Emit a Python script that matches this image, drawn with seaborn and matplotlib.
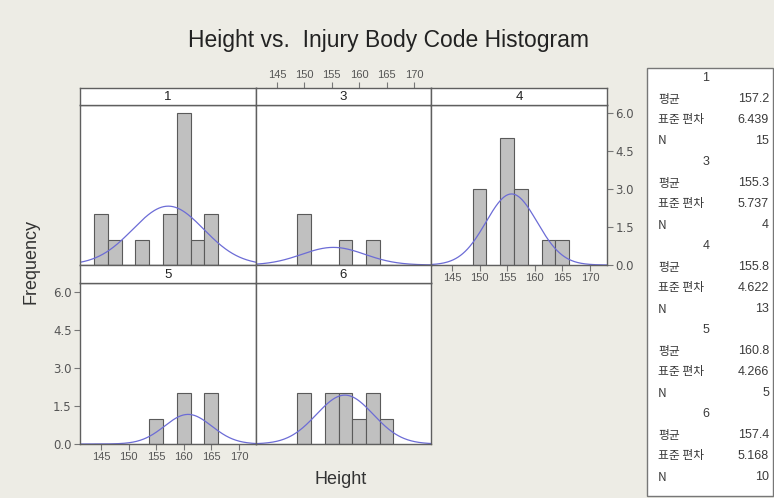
import numpy as np
import pandas as pd
import matplotlib
matplotlib.use("Agg")
import matplotlib.pyplot as plt
import matplotlib.ticker as mticker
import seaborn as sns
from matplotlib.patches import Rectangle

sns.set_theme(style="white")
plt.rcParams["font.family"] = ["Liberation Sans", "Noto Sans CJK KR", "DejaVu Sans"]

# Bin centres (width 2.5) and counts for each injury body code
bin_centers = [145.0, 147.5, 150.0, 152.5, 155.0, 157.5, 160.0, 162.5, 165.0]
bin_width = 2.5
codes = ["1", "3", "4", "5", "6"]
counts_1 = [2, 1, 0, 1, 0, 2, 6, 1, 2]
counts_3 = [0, 0, 2, 0, 0, 1, 0, 1, 0]
counts_4 = [0, 0, 3, 0, 5, 3, 0, 1, 1]
counts_5 = [0, 0, 0, 0, 1, 0, 2, 0, 2]
counts_6 = [0, 0, 2, 0, 2, 2, 1, 2, 1]

# Summary statistics per code
means = [157.2, 155.3, 155.8, 160.8, 157.4]
stdevs = [6.439, 5.737, 4.622, 4.266, 5.168]
ns = [15, 4, 13, 5, 10]

x_ticks = [145, 150, 155, 160, 165, 170]
y_ticks = [0.0, 1.5, 3.0, 4.5, 6.0]

all_counts = [counts_1, counts_3, counts_4, counts_5, counts_6]

BG = "#edece5"
BAR = "#c0c0c0"
EDGE = "#5a5a5a"
FRAME = "#5f5f5f"
CURVE = "#6c6cd6"
TXT = "#3a3a3a"
TICK_X_FONT = ["Liberation Sans Narrow", "Liberation Sans", "DejaVu Sans"]
TICK_Y_FONT = ["DejaVu Sans"]

W, H = 774, 498
fig = plt.figure(figsize=(W / 100, H / 100), dpi=100, facecolor=BG)


def fax(x0, y0, x1, y1):
    """Axes from pixel box (top-left origin)."""
    return fig.add_axes([x0 / W, 1 - y1 / H, (x1 - x0) / W, (y1 - y0) / H])


def style_xticklabels(ax):
    for t in ax.get_xticklabels():
        t.set_fontfamily(TICK_X_FONT)


def style_yticklabels(ax):
    for t in ax.get_yticklabels():
        t.set_fontfamily(TICK_Y_FONT)


XLIM = (141.2, 173.1)
col_x = [80, 256, 431, 607]
rows = [dict(strip=(88, 105), plot=(105, 265)), dict(strip=(265, 283), plot=(283, 444))]
layout = [(0, 0), (0, 1), (0, 2), (1, 0), (1, 1)]

edges = [c - bin_width / 2 for c in bin_centers] + [bin_centers[-1] + bin_width / 2]
xs = np.linspace(XLIM[0], XLIM[1], 300)

for i, code in enumerate(codes):
    r, c = layout[i]
    x0, x1 = col_x[c], col_x[c + 1]
    py0, py1 = rows[r]["plot"]
    sy0, sy1 = rows[r]["strip"]

    ax = fax(x0, py0, x1, py1)
    ax.set_facecolor("white")
    df = pd.DataFrame({"Height": bin_centers, "count": all_counts[i]})
    df = df[df["count"] > 0]
    sns.histplot(data=df, x="Height", weights="count", bins=edges, ax=ax,
                 color=BAR, edgecolor=EDGE, linewidth=0.8, alpha=1.0)
    dens = ns[i] * bin_width * np.exp(-0.5 * ((xs - means[i]) / stdevs[i]) ** 2) / (stdevs[i] * np.sqrt(2 * np.pi))
    sns.lineplot(x=xs, y=dens, ax=ax, color=CURVE, linewidth=0.9)
    ax.set_xlim(*XLIM)
    ax.set_ylim(0, (py1 - py0) / 25.33)
    ax.set_xlabel("")
    ax.set_ylabel("")
    for s in ax.spines.values():
        s.set_color(FRAME)
        s.set_linewidth(1.0)
    ax.set_xticks(x_ticks)
    ax.set_yticks(y_ticks)
    ax.yaxis.set_major_formatter(mticker.FormatStrFormatter("%.1f"))
    ax.tick_params(axis="both", direction="out", length=4, width=0.8, color="#777777",
                   labelcolor="#555555", pad=2)
    ax.tick_params(axis="x", labelsize=8)
    ax.tick_params(axis="y", labelsize=8.5)
    show_bottom = code in ("4", "5")
    ax.tick_params(axis="x", bottom=show_bottom, labelbottom=show_bottom, top=False, labeltop=False)
    if code == "4":
        ax.yaxis.tick_right()
        ax.tick_params(axis="y", right=True, labelright=True, left=False, labelleft=False)
    elif code == "5":
        ax.tick_params(axis="y", left=True, labelleft=True)
    else:
        ax.tick_params(axis="y", left=False, labelleft=False, right=False, labelright=False)
    style_xticklabels(ax)
    style_yticklabels(ax)

    # strip with code label
    sx = fax(x0, sy0, x1, sy1)
    sx.set_facecolor("white")
    sx.set_xlim(*XLIM)
    sx.set_ylim(0, 1)
    sx.set_yticks([])
    for s in sx.spines.values():
        s.set_color(FRAME)
        s.set_linewidth(1.0)
    sx.text(0.5, 0.45, code, transform=sx.transAxes, ha="center", va="center",
            fontsize=9.5, color="#222222")
    if code == "3":
        sx.set_xticks(x_ticks)
        sx.tick_params(axis="x", top=True, labeltop=True, bottom=False, labelbottom=False,
                       direction="out", length=4, width=0.8, color="#777777",
                       labelsize=8, labelcolor="#555555", pad=2)
        style_xticklabels(sx)
    else:
        sx.set_xticks([])

fig.text(389 / W, 1 - 40 / H, "Height vs.  Injury Body Code Histogram", ha="center", va="center",
         fontsize=16.5, color="#222222")
fig.text(341 / W, 1 - 479 / H, "Height", ha="center", va="center", fontsize=13, color="#333333")
fig.text(31 / W, 1 - 261 / H, "Frequency", ha="center", va="center", rotation=90,
         fontsize=13, color="#333333")

# summary statistics panel
bx0, by0, bx1, by1 = 647, 68, 773, 496
fig.patches.append(Rectangle((bx0 / W, 1 - by1 / H), (bx1 - bx0) / W, (by1 - by0) / H,
                             transform=fig.transFigure, facecolor="white", edgecolor="#777777",
                             linewidth=1.0, zorder=0))
line = 0
for code, m, sd, n in zip(codes, means, stdevs, ns):
    rows_txt = [(code, None), ("평균", f"{m:.1f}"), ("표준 편차", f"{sd:.3f}"), ("N", f"{n}")]
    for lab, val in rows_txt:
        y = 1 - (78 + 21 * line) / H
        if val is None:
            fig.text(706 / W, y, lab, ha="center", va="center", fontsize=9, color=TXT)
        else:
            fig.text(658 / W, y, lab, ha="left", va="center", fontsize=8.5, color=TXT,
                     family=["Noto Sans CJK KR", "DejaVu Sans"])
            fig.text(769 / W, y, val, ha="right", va="center", fontsize=9, color=TXT)
        line += 1

fig.savefig("out.png", dpi=100, facecolor=BG)
